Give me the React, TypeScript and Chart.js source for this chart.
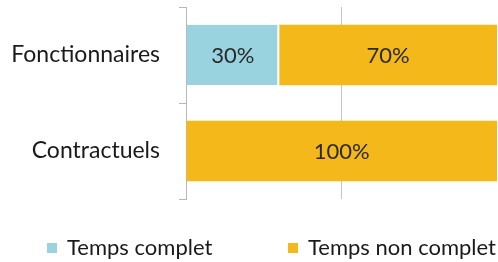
import React, { useEffect, useRef } from "react";
import { Chart, registerables } from "chart.js";

Chart.register(...registerables);

const categories = ["Fonctionnaires", "Contractuels"];
const seriesNames = ["Temps complet", "Temps non complet"];
const tempsComplet = [30, 0];
const tempsNonComplet = [70, 100];
const seriesColors = ["#98D3DF", "#F4B81B"];

const FONT = "Lato, 'Open Sans', sans-serif";

const dataLabelsPlugin = {
  id: "segLabels",
  afterDatasetsDraw(chart: any) {
    const { ctx } = chart;
    ctx.save();
    ctx.font = `22px ${FONT}`;
    ctx.fillStyle = "#2a2a2a";
    ctx.textAlign = "center";
    ctx.textBaseline = "middle";
    chart.data.datasets.forEach((ds: any, di: number) => {
      const meta = chart.getDatasetMeta(di);
      meta.data.forEach((el: any, i: number) => {
        const v = ds.data[i];
        if (!v) return;
        const cx = (el.x + el.base) / 2;
        ctx.fillText(`${v}%`, cx, el.y + 1);
      });
    });
    ctx.restore();
  },
};

const customLegendPlugin = {
  id: "customLegend",
  afterDraw(chart: any, _args: any, opts: any) {
    const { ctx } = chart;
    const xs: number[] = opts.xs;
    const y: number = opts.y;
    ctx.save();
    ctx.font = `22px ${FONT}`;
    ctx.textBaseline = "middle";
    ctx.textAlign = "left";
    chart.data.datasets.forEach((ds: any, i: number) => {
      const x = xs[i];
      ctx.fillStyle = ds.backgroundColor;
      ctx.fillRect(x, y - 5, 10, 10);
      ctx.fillStyle = "#1a1a1a";
      ctx.fillText(ds.label, x + 20, y);
    });
    ctx.restore();
  },
};

export default function App() {
  const ref = useRef<HTMLCanvasElement | null>(null);

  useEffect(() => {
    if (!ref.current) return;
    const chart = new Chart(ref.current, {
      type: "bar",
      data: {
        labels: categories,
        datasets: [
          {
            label: seriesNames[0],
            data: tempsComplet,
            backgroundColor: seriesColors[0],
            borderColor: "#ffffff",
            borderWidth: { top: 0, bottom: 0, left: 0, right: 2 },
            borderSkipped: false,
            barPercentage: 0.63,
            categoryPercentage: 1,
          },
          {
            label: seriesNames[1],
            data: tempsNonComplet,
            backgroundColor: seriesColors[1],
            borderWidth: 0,
            barPercentage: 0.63,
            categoryPercentage: 1,
          },
        ],
      },
      options: {
        indexAxis: "y",
        responsive: false,
        animation: false,
        layout: { padding: { top: 7, bottom: 63, right: 1, left: 0 } },
        plugins: {
          legend: { display: false },
          tooltip: { enabled: false },
          customLegend: { xs: [47, 288], y: 248 },
        } as any,
        scales: {
          x: {
            stacked: true,
            min: 0,
            max: 100,
            ticks: { display: false, stepSize: 50 },
            grid: {
              drawTicks: false,
              color: (c: any) => (c.tick && c.tick.value === 50 ? "#c4c4c4" : "rgba(0,0,0,0)"),
              lineWidth: 1,
            },
            border: { display: false },
          },
          y: {
            stacked: true,
            afterFit: (scale: any) => {
              scale.width = 186;
              scale.paddingTop = 0;
              scale.paddingBottom = 0;
            },
            ticks: {
              color: "#1a1a1a",
              font: { family: FONT, size: 23 },
              padding: 19,
            },
            grid: {
              drawOnChartArea: false,
              drawTicks: true,
              tickLength: 7,
              color: "#b8b8b8",
            },
            border: { display: true, color: "#b8b8b8", width: 1 },
          },
        },
      },
      plugins: [dataLabelsPlugin, customLegendPlugin],
    });
    return () => chart.destroy();
  }, []);

  return (
    <canvas
      ref={ref}
      width={498}
      height={262}
      style={{ position: "fixed", left: 0, top: 0, width: 498, height: 262, background: "#fff" }}
    />
  );
}
